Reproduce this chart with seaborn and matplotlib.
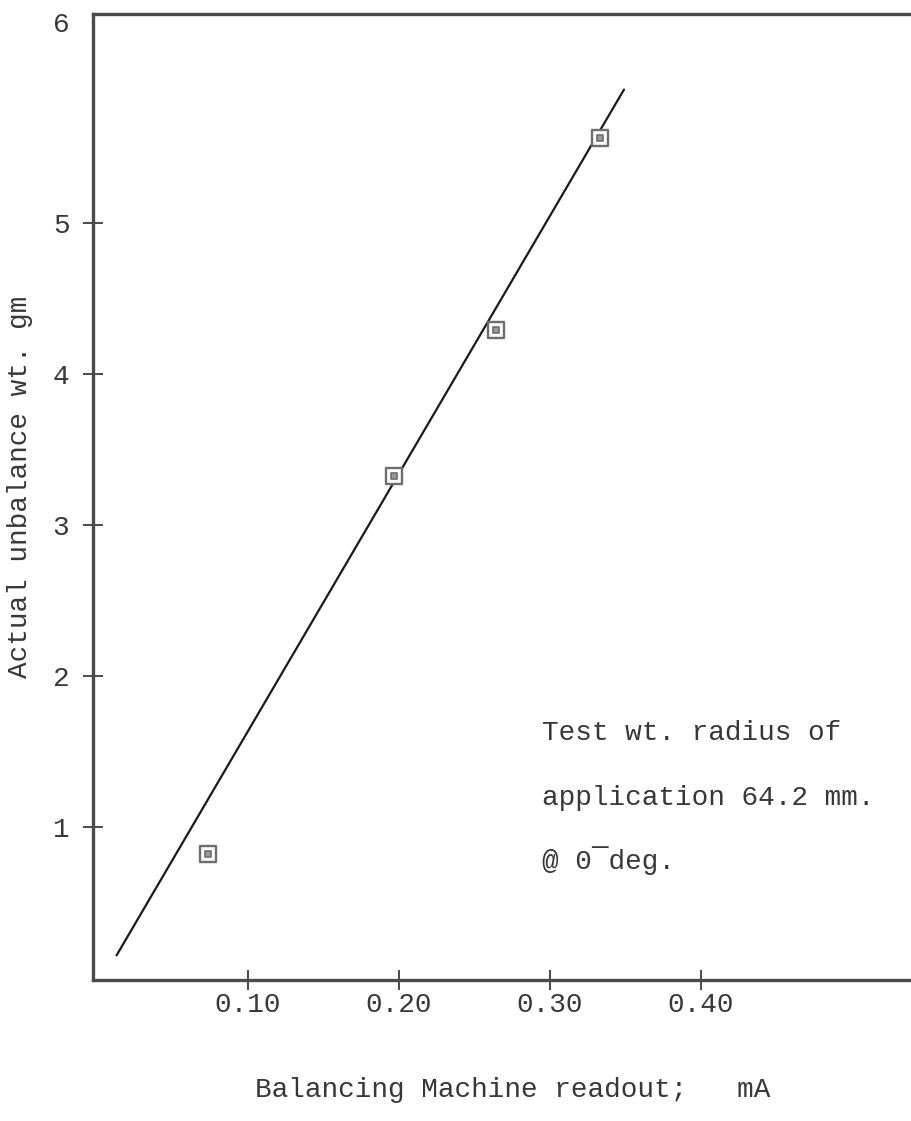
import matplotlib
matplotlib.use("Agg")
import matplotlib.pyplot as plt
import seaborn as sns
import pandas as pd

# ---- data ----
readout_ma = [0.0735, 0.197, 0.264, 0.333]
unbalance_gm = [0.82, 3.32, 4.29, 5.56]

fit_x = [0.013, 0.349]
fit_y = [0.15, 5.88]

xtick_values = [0.10, 0.20, 0.30, 0.40]
xtick_labels = ["0.10", "0.20", "0.30", "0.40"]
ytick_values = [1, 2, 3, 4, 5, 6.33]
ytick_labels = ["1", "2", "3", "4", "5", "6"]

note_lines = ["Test wt. radius of", "application 64.2 mm.", "@ 0\u00afdeg."]
x_label = "Balancing Machine readout;   mA"
y_label = "Actual unbalance wt. gm"

sns.set_theme(style="white")
plt.rcParams["font.family"] = ["Liberation Mono", "DejaVu Sans Mono"]

W, H = 912, 1121
fig = plt.figure(figsize=(W / 100, H / 100), dpi=100)
left, right, top, bottom = 93, 912, 14, 980
ax = fig.add_axes([left / W, (H - bottom) / H, (right - left) / W, (bottom - top) / H])

txt_color = "#383838"
spine_color = "#4a4a4a"

pts = pd.DataFrame({"x": readout_ma, "y": unbalance_gm})
line = pd.DataFrame({"x": fit_x, "y": fit_y})

sns.lineplot(data=line, x="x", y="y", ax=ax, color="#1a1a1a", linewidth=1.6, zorder=2)
sns.scatterplot(data=pts, x="x", y="y", ax=ax, marker="s", s=120,
                facecolor="white", edgecolor="#6e6e6e", linewidth=1.7, zorder=3)
sns.scatterplot(data=pts, x="x", y="y", ax=ax, marker="s", s=18,
                facecolor="#9a9a9a", edgecolor="#6e6e6e", linewidth=1.2, zorder=4)

ax.set_xlim(-0.0026, 0.5397)
ax.set_ylim(-0.013, 6.38)

ax.set_xticks(xtick_values, xtick_labels)
ax.set_yticks(ytick_values, ytick_labels)
ax.tick_params(axis="both", bottom=True, left=True, direction="inout", length=14, width=1.4,
               color=spine_color, labelsize=20, labelcolor=txt_color)
ax.tick_params(axis="x", pad=2)
ax.tick_params(axis="y", pad=10)
ax.yaxis.get_major_ticks()[-1].tick1line.set_visible(False)

for s in ["left", "bottom", "top"]:
    ax.spines[s].set_color(spine_color)
    ax.spines[s].set_linewidth(2.4)
ax.spines["right"].set_visible(False)

ax.set_xlabel("")
ax.set_ylabel("")
fig.text(513 / W, 1 - 1090 / H, x_label, ha="center", va="center", fontsize=20, color=txt_color)
fig.text(20 / W, 1 - 487 / H, y_label, ha="center", va="center", rotation=90,
         fontsize=20, color=txt_color)

for i, t in enumerate(note_lines):
    ax.text(0.295, [1.62, 1.19, 0.78][i], t, ha="left", va="center", fontsize=20, color=txt_color)

fig.savefig("out.png", dpi=100, facecolor="white")
